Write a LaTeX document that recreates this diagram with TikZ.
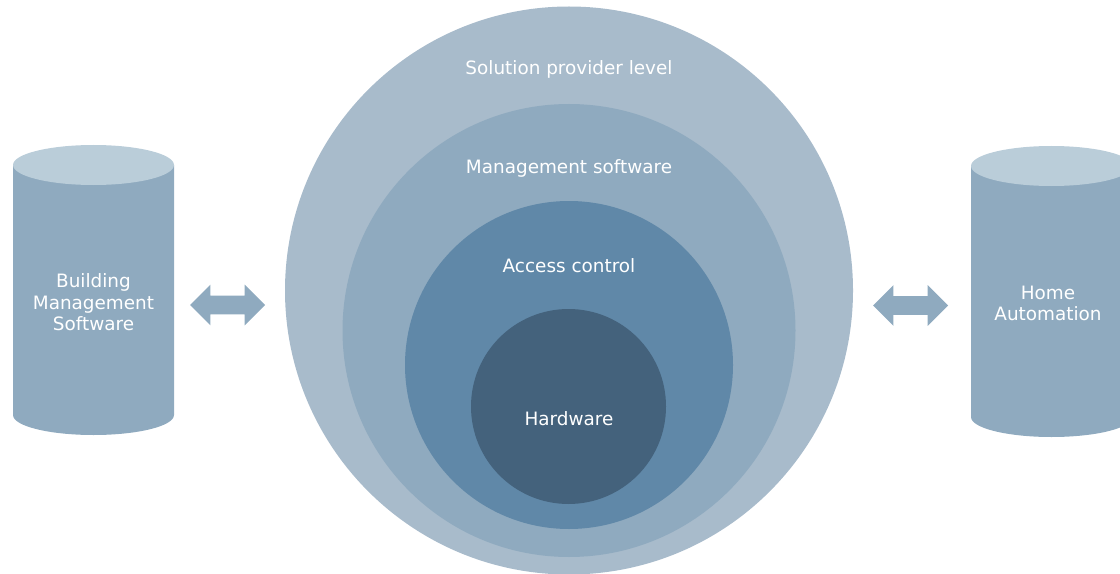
\documentclass[tikz,border=0pt]{standalone}
\usepackage{fontspec}
\setmainfont{DejaVu Sans}
\usepackage{tikz}
\usetikzlibrary{shapes.arrows,positioning}

\definecolor{provcol}{HTML}{A8BBCB}
\definecolor{mgmtcol}{HTML}{8FAABF}
\definecolor{acccol}{HTML}{6088A8}
\definecolor{hwcol}{HTML}{44627C}
\definecolor{cyltopcol}{HTML}{BACDD9}

\begin{document}
\begin{tikzpicture}[
    x=0.75pt, y=-0.75pt,
    ring/.style={circle, inner sep=0pt, draw=none},
    lbl/.style={font=\fontsize{13.8}{16.2}\selectfont, text=white, inner sep=0pt, align=center},
    cylbody/.style={fill=mgmtcol},
    cyltop/.style={fill=cyltopcol},
    link/.style={double arrow, fill=mgmtcol, inner xsep=0pt, inner ysep=6.75pt, minimum height=56.25pt, double arrow head extend=8.25pt},
]
    \useasboundingbox (0,0) rectangle (1120,574);

    % Nested levels
    \node[ring, fill=provcol, minimum size=426pt] (prov) at (569,290.5) {};
    \node[ring, fill=mgmtcol, minimum size=339.75pt] (mgmt) at (569,330.5) {};
    \node[ring, fill=acccol, minimum size=246pt] (acc) at (569,365) {};
    \node[ring, fill=hwcol, minimum size=146.25pt] (hw) at (568.5,406.5) {};

    \node[lbl, anchor=base] (prov-title) at (569,75) {Solution provider level};
    \node[lbl, anchor=base] (mgmt-title) at (569,174) {Management software};
    \node[lbl, anchor=base] (acc-title) at (569,272) {Access control};
    \node[lbl, anchor=base] (hw-title) at (569,425) {Hardware};

    % Building Management Software cylinder
    \fill[cylbody] (13,165) -- (13,415) arc[start angle=180, end angle=0, x radius=80.5, y radius=20] -- (174,165) -- cycle;
    \fill[cyltop] (93.5,165) ellipse [x radius=80.5, y radius=20];
    \node[lbl] (bms) at (93.5,302.3) {Building\\Management\\Software};

    % Home Automation cylinder
    \fill[cylbody] (971,166) -- (971,417) arc[start angle=180, end angle=0, x radius=80.5, y radius=20] -- (1132,166) -- cycle;
    \fill[cyltop] (1051.5,166) ellipse [x radius=80.5, y radius=20];
    \node[lbl] (home) at (1048,303.3) {Home\\Automation};

    % Links
    \node[link] (bms-link) at (227.5,305) {};
    \node[link] (home-link) at (910.5,305.5) {};

\end{tikzpicture}
\end{document}
